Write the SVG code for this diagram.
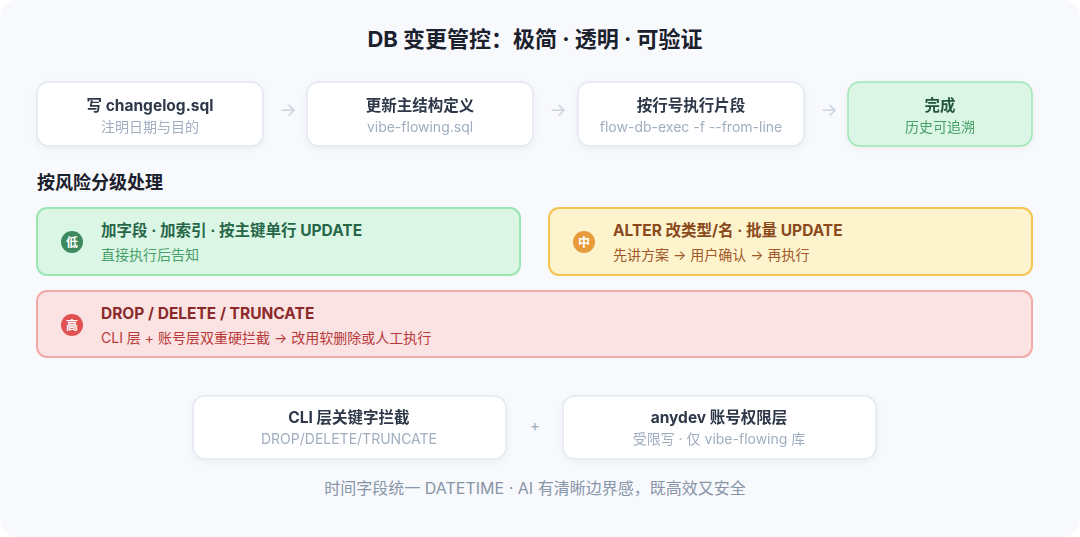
<svg xmlns="http://www.w3.org/2000/svg" width="1080" height="537" viewBox="0 0 1080 537">
<defs>
<style>
text{font-family:"Inter","Noto Sans CJK SC",sans-serif}
.t{font-size:15.5px;font-weight:700;fill:#2d3748;text-anchor:middle}
.s{font-size:14px;fill:#a0aec0;text-anchor:middle}
.card{fill:#fff;stroke:#e2e8f0;stroke-width:1.5}
.arr{font-size:18px;fill:#cbd5e0;text-anchor:middle}
.rt{font-size:15.5px;font-weight:700}
.rs{font-size:14px}
</style>
<filter id="sh" x="-10%" y="-20%" width="120%" height="150%"><feDropShadow dx="0" dy="2" stdDeviation="3" flood-color="#000" flood-opacity="0.05"/></filter>
</defs>
<rect x="0" y="0" width="1080" height="537" rx="18" fill="#f8f9fc"/>
<text x="535" y="47" font-size="22" font-weight="700" fill="#1a202c" text-anchor="middle">DB 变更管控：极简 · 透明 · 可验证</text>

<g id="n1" filter="url(#sh)"><rect class="card" x="37" y="82" width="226" height="64" rx="12"/><text class="t" x="150" y="111">写 changelog.sql</text><text class="s" x="150" y="132">注明日期与目的</text></g>
<g id="n2" filter="url(#sh)"><rect class="card" x="307" y="82" width="226" height="64" rx="12"/><text class="t" x="420" y="111">更新主结构定义</text><text class="s" x="420" y="132">vibe-flowing.sql</text></g>
<g id="n3" filter="url(#sh)"><rect class="card" x="578" y="82" width="226" height="64" rx="12"/><text class="t" x="691" y="111">按行号执行片段</text><text class="s" x="691" y="132">flow-db-exec -f --from-line</text></g>
<g id="n4" filter="url(#sh)"><rect x="848" y="82" width="184" height="64" rx="12" fill="#dcf6e5" stroke="#9ae6b4" stroke-width="1.5"/><text class="t" x="940" y="111" style="fill:#22543d">完成</text><text class="s" x="940" y="132" style="fill:#48a06a">历史可追溯</text></g>

<g id="connectors"><text class="arr" x="288" y="116">→</text><text class="arr" x="558" y="116">→</text><text class="arr" x="829" y="116">→</text><text x="535" y="431" font-size="15" fill="#a0aec0" text-anchor="middle">+</text></g>

<text x="37" y="189" font-size="18" font-weight="700" fill="#1a202c">按风险分级处理</text>

<g id="low"><rect x="37" y="208" width="483" height="67" rx="10" fill="#dcf6e5" stroke="#9ae6b4" stroke-width="2"/><circle cx="72" cy="242" r="11" fill="#3d8a5f"/><text x="72" y="247" font-size="12" font-weight="700" fill="#fff" text-anchor="middle">低</text><text class="rt" x="101" y="236" fill="#276749">加字段 · 加索引 · 按主键单行 UPDATE</text><text class="rs" x="101" y="260" fill="#48a06a">直接执行后告知</text></g>
<g id="mid"><rect x="549" y="208" width="483" height="67" rx="10" fill="#fdf3cd" stroke="#f6c453" stroke-width="2"/><circle cx="584" cy="242" r="11" fill="#e89b3a"/><text x="584" y="247" font-size="12" font-weight="700" fill="#fff" text-anchor="middle">中</text><text class="rt" x="613" y="236" fill="#8a4a1c">ALTER 改类型/名 · 批量 UPDATE</text><text class="rs" x="613" y="260" fill="#a0582a">先讲方案 → 用户确认 → 再执行</text></g>
<g id="high"><rect x="37" y="291" width="995" height="66" rx="10" fill="#fbe3e3" stroke="#f2a9a9" stroke-width="2"/><circle cx="72" cy="325" r="11" fill="#e05252"/><text x="72" y="330" font-size="12" font-weight="700" fill="#fff" text-anchor="middle">高</text><text class="rt" x="101" y="319" fill="#8b2a2a">DROP / DELETE / TRUNCATE</text><text class="rs" x="101" y="343" fill="#b83a3a">CLI 层 + 账号层双重硬拦截 → 改用软删除或人工执行</text></g>

<g id="cli" filter="url(#sh)"><rect class="card" x="193" y="396" width="313" height="63" rx="12"/><text class="t" x="349" y="423">CLI 层关键字拦截</text><text class="s" x="349" y="444">DROP/DELETE/TRUNCATE</text></g>
<g id="acct" filter="url(#sh)"><rect class="card" x="563" y="396" width="313" height="63" rx="12"/><text class="t" x="719" y="423">anydev 账号权限层</text><text class="s" x="719" y="444">受限写 · 仅 vibe-flowing 库</text></g>

<text x="535" y="494" font-size="16" fill="#8795a8" text-anchor="middle">时间字段统一 DATETIME · AI 有清晰边界感，既高效又安全</text>
</svg>
